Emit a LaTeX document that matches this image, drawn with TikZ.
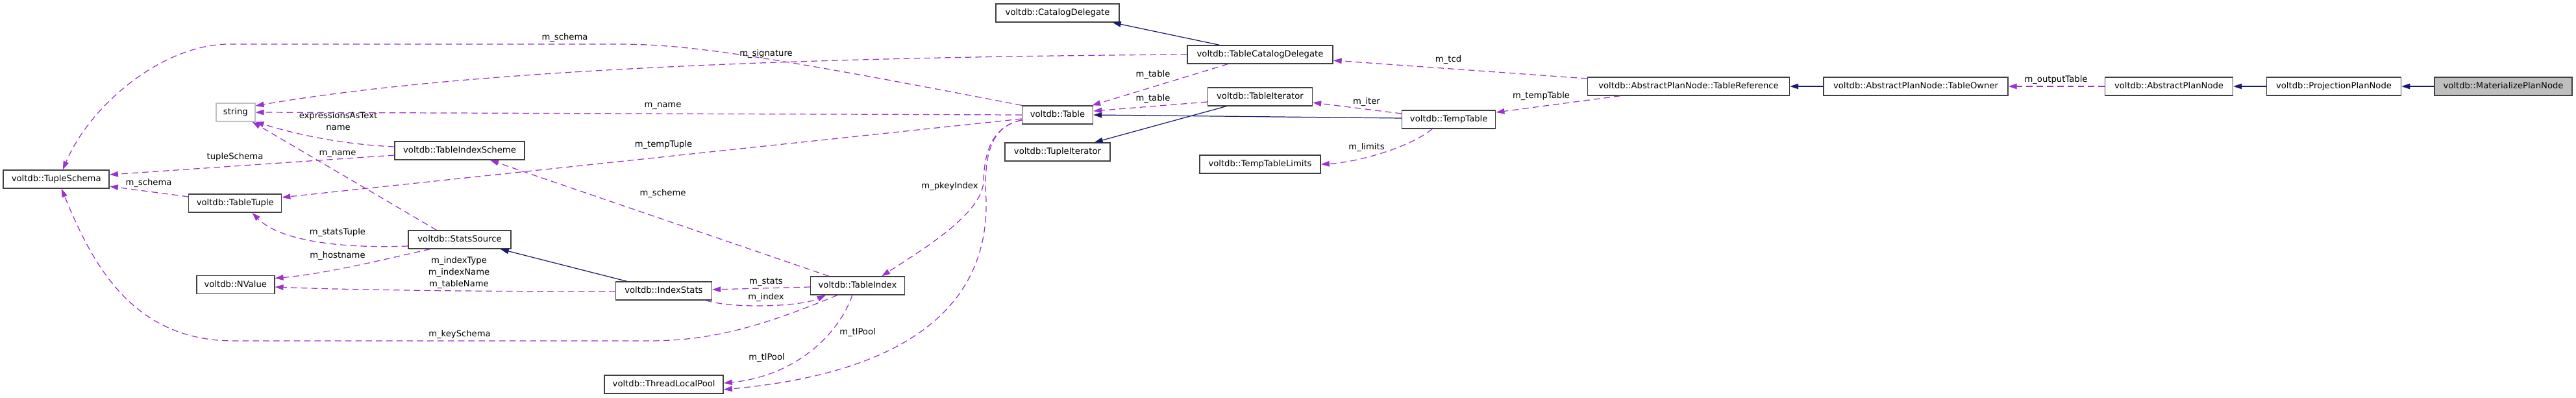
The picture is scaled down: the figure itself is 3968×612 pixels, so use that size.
\documentclass[tikz,border=0pt]{standalone}
\usepackage{fontspec}
\setmainfont{DejaVu Sans}
\usetikzlibrary{arrows.meta,calc}
\definecolor{edgepurple}{RGB}{154,50,205}
\definecolor{inhblue}{RGB}{25,25,112}
\definecolor{boxline}{RGB}{64,64,64}
\definecolor{grayfill}{RGB}{191,191,191}
\tikzset{
  cls/.style={draw=boxline, line width=0.8pt, fill=white, minimum height=0.56cm,
              inner sep=0pt, font=\fontsize{7.5}{10}\selectfont,
              text height=5.8pt, text depth=1.6pt},
  bw/.style={minimum width=#1*0.02cm},
  uses/.style={edgepurple, line width=0.7pt, dash pattern=on 5.5pt off 3.5pt,
               -{Triangle[length=0.26cm, width=0.17cm]}},
  inh/.style={inhblue, line width=0.7pt, -{Triangle[length=0.26cm, width=0.17cm]}},
  lbl/.style={font=\fontsize{7.5}{10}\selectfont, inner sep=0pt, align=center},
}
\begin{document}
\begin{tikzpicture}[x=0.02cm, y=-0.02cm]
  \useasboundingbox (0,0) rectangle (3968,612);
  % classes
  \node[cls, bw=163] (tschema) at (86.7,276) {voltdb::TupleSchema};
  \node[cls, bw=60, draw=grayfill] (str) at (362.8,173) {string};
  \node[cls, bw=200] (tis) at (708,232) {voltdb::TableIndexScheme};
  \node[cls, bw=143] (ttuple) at (362.2,313) {voltdb::TableTuple};
  \node[cls, bw=158] (ssrc) at (708,369) {voltdb::StatsSource};
  \node[cls, bw=120] (nval) at (362.8,438.5) {voltdb::NValue};
  \node[cls, bw=148] (istats) at (1022.4,448) {voltdb::IndexStats};
  \node[cls, bw=145] (tidx) at (1321,440) {voltdb::TableIndex};
  \node[cls, bw=183] (tlpool) at (1022.6,592) {voltdb::ThreadLocalPool};
  \node[cls, bw=190] (catdel) at (1629,20) {voltdb::CatalogDelegate};
  \node[cls, bw=224] (tcd) at (1941,84) {voltdb::TableCatalogDelegate};
  \node[cls, bw=109] (table) at (1629,177) {voltdb::Table};
  \node[cls, bw=161] (titer) at (1941,149) {voltdb::TableIterator};
  \node[cls, bw=144] (ttable) at (2231.7,184) {voltdb::TempTable};
  \node[cls, bw=162] (tupit) at (1629,234) {voltdb::TupleIterator};
  \node[cls, bw=186] (ttlim) at (1941,253) {voltdb::TempTableLimits};
  \node[cls, bw=311] (tref) at (2601,133) {voltdb::AbstractPlanNode::TableReference};
  \node[cls, bw=284] (towner) at (2951,133) {voltdb::AbstractPlanNode::TableOwner};
  \node[cls, bw=197] (apn) at (3341,133) {voltdb::AbstractPlanNode};
  \node[cls, bw=207] (ppn) at (3595,133) {voltdb::ProjectionPlanNode};
  \node[cls, bw=212, fill=grayfill] (mpn) at (3856,133) {voltdb::MaterializePlanNode};

  % inheritance
  \draw[inh] (mpn) -- (ppn);
  \draw[inh] (ppn) -- (apn);
  \draw[inh] (towner) -- (tref);
  \draw[inh] ($(tcd.north west)+(50,0)$) -- ($(catdel.south east)+(-11,0)$);
  \draw[inh] ($(ttable.west)+(0,-2)$) -- (table.east);
  \draw[inh] ($(titer.south west)+(29,0)$) -- ($(tupit.north east)+(-25,0)$);
  \draw[inh] ($(istats.north west)+(18,0)$) -- ($(ssrc.south east)+(-17,0)$);

  % members
  \draw[uses] (apn) -- (towner);
  \draw[uses] ($(tref.west)+(0,-12)$) -- ($(tcd.east)+(0,9)$);
  \draw[uses] ($(tref.south west)+(51,0)$) -- ($(ttable.east)+(0,-11)$);
  \draw[uses] ($(tcd.south west)+(63,0)$) -- ($(table.north east)+(-2,0)$);
  \draw[uses] ($(titer.west)+(0,8)$) -- ($(table.east)+(0,-6)$);
  \draw[uses] ($(ttable.west)+(0,-9)$) -- ($(titer.east)+(0,9)$);
  \draw[uses] ($(ttable.south west)+(47,0)$) .. controls (2170,228) and (2090,250) .. (ttlim.east);
  \draw[uses] (tcd.west) .. controls (1200,88) and (700,110) .. ($(str.east)+(0,-10)$);
  \draw[uses] (table.north west) .. controls (1150,80) and (1050,68) .. (950,68) -- (350,68)
    .. controls (250,70) and (140,160) .. ($(tschema.north)+(10,0)$);
  \draw[uses] (table.west) -- (str.east);
  \draw[uses] ($(table.west)+(0,6)$) -- ($(ttuple.east)+(0,-9)$);
  \draw[uses] ($(table.west)+(0,8)$) .. controls (1525,195) and (1516,240) .. (1515,280)
    .. controls (1512,330) and (1420,385) .. ($(tidx.north east)+(-36,0)$);
  \draw[uses] ($(table.west)+(0,8)$) .. controls (1525,195) and (1518,240) .. (1518,290)
    .. controls (1530,440) and (1440,570) .. ($(tlpool.east)+(0,8)$);
  \draw[uses] ($(tidx.south west)+(65,0)$) .. controls (1290,520) and (1220,580) .. ($(tlpool.east)+(0,-2)$);
  \draw[uses] ($(tidx.north west)+(29,0)$) -- ($(tis.south)+(47,0)$);
  \draw[uses] ($(tidx.west)+(0,2)$) -- ($(istats.east)+(0,-2)$);
  \draw[uses] ($(istats.south east)+(-10,0)$) .. controls (1130,476) and (1235,472) .. ($(tidx.south west)+(24,0)$);
  \draw[uses] ($(tidx.south west)+(42,0)$) .. controls (1180,500) and (1100,525) .. (1000,525) -- (360,525)
    .. controls (200,525) and (140,400) .. ($(tschema.south)+(8,0)$);
  \draw[uses] ($(tis.west)+(0,-6)$) .. controls (520,222) and (450,205) .. (str.south east);
  \draw[uses] ($(tis.west)+(0,7)$) -- ($(tschema.east)+(0,-7)$);
  \draw[uses] ($(ttuple.west)+(0,-10)$) -- ($(tschema.east)+(0,11)$);
  \draw[uses] ($(ssrc.west)+(0,10)$) .. controls (520,383) and (430,370) .. ($(ttuple.south east)+(-46,0)$);
  \draw[uses] ($(ssrc.south west)+(34,0)$) .. controls (590,400) and (500,422) .. ($(nval.east)+(0,-10)$);
  \draw[uses] ($(istats.west)+(0,1)$) .. controls (700,449) and (520,446) .. ($(nval.east)+(0,3.5)$);
  \draw[uses] ($(ssrc.north west)+(44,0)$) -- ($(str.south east)+(-5,0)$);

  % labels
  \node[lbl] (lout) at (3167,123) {m\_outputTable};
  \node[lbl] (ltcd) at (2231,92) {m\_tcd};
  \node[lbl] (ltemp) at (2374,148) {m\_tempTable};
  \node[lbl] (ltab1) at (1776,115) {m\_table};
  \node[lbl] (ltab2) at (1776,152) {m\_table};
  \node[lbl] (liter) at (2105,157) {m\_iter};
  \node[lbl] (llim) at (2105,227) {m\_limits};
  \node[lbl] (lsig) at (1180,83) {m\_signature};
  \node[lbl] (lsch) at (870,58) {m\_schema};
  \node[lbl] (lname) at (1021,163) {m\_name};
  \node[lbl] (ltup) at (1022,223) {m\_tempTuple};
  \node[lbl] (lpkey) at (1463,287) {m\_pkeyIndex};
  \node[lbl] (lpool1) at (1321,512) {m\_tlPool};
  \node[lbl] (lpool2) at (1181,551) {m\_tlPool};
  \node[lbl] (lscheme) at (1021,298) {m\_scheme};
  \node[lbl] (lstats) at (1180,434) {m\_stats};
  \node[lbl] (lindex) at (1180,458) {m\_index};
  \node[lbl] (lkey) at (708,515) {m\_keySchema};
  \node[lbl] (lexpr) at (521,186.5) {expressionsAsText\\name};
  \node[lbl] (ltsch) at (362,242) {tupleSchema};
  \node[lbl] (lsch2) at (229,282) {m\_schema};
  \node[lbl] (lstup) at (520,358) {m\_statsTuple};
  \node[lbl] (lhost) at (520,394) {m\_hostname};
  \node[lbl] (lcols) at (707,420) {m\_indexType\\m\_indexName\\m\_tableName};
  \node[lbl] (lname2) at (520,237) {m\_name};
\end{tikzpicture}
\end{document}
